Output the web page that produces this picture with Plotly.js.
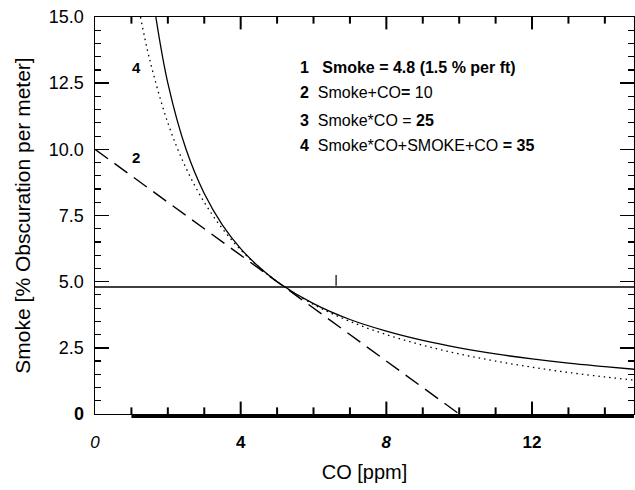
<!DOCTYPE html>
<html>
<head>
<meta charset="utf-8">
<script src="https://cdn.plot.ly/plotly-3.0.1.min.js"></script>
<style>html,body{margin:0;padding:0;background:#fff;}</style>
</head>
<body>
<div id="chart" style="width:635px;height:490px;"></div>
<script>
// Curve 1: Smoke = 4.8
const line1X = [0, 14.8];
const line1Y = [4.8, 4.8];
// Curve 2: Smoke + CO = 10
const line2X = [0, 10];
const line2Y = [10, 0];
// Curve 3: Smoke * CO = 25
const line3X = [1.67, 2, 2.5, 3, 3.5, 4, 4.5, 5, 6, 7, 8, 9, 10, 11, 12, 13, 14, 14.8];
const line3Y = [15, 12.5, 10, 8.33, 7.14, 6.25, 5.56, 5, 4.17, 3.57, 3.13, 2.78, 2.5, 2.27, 2.08, 1.92, 1.79, 1.69];
// Curve 4: Smoke*CO + Smoke + CO = 35
const line4X = [1.25, 1.5, 2, 2.5, 3, 3.5, 4, 4.5, 5, 6, 7, 8, 9, 10, 11, 12, 13, 14, 14.8];
const line4Y = [15, 13.4, 11, 9.29, 8, 7, 6.2, 5.55, 5, 4.14, 3.5, 3, 2.6, 2.27, 2, 1.77, 1.57, 1.4, 1.28];

const xTickVals = [0, 4, 8, 12];
const xTickText = ['<i>0</i>', '<b>4</b>', '<b><i>8</i></b>', '<b>12</b>'];
const xMinorTicks = [1, 2, 3, 4, 5, 6, 7, 8, 9, 10, 11, 12, 13, 14];
const yTickVals = [0, 2.5, 5, 7.5, 10, 12.5, 15];
const yTickText = ['<b>0</b>', '2.5', '5.0', '7.5', '10.0', '12.5', '15.0'];

const F = 'Arial, "Liberation Sans", sans-serif';
const SERIF = '"Times New Roman", "Liberation Serif", serif';

// x-axis tick marks as a line trace (bottom pointing up, top pointing down)
const tickX = [], tickY = [];
for (let i = 0; i < xMinorTicks.length; i++) {
  const v = xMinorTicks[i];
  const len = (v % 4 === 0) ? 0.47 : 0.25;
  tickX.push(v, v, null, v, v, null);
  tickY.push(0, len, null, 15, 15 - len, null);
}

const traces = [
  {x: line1X, y: line1Y, mode: 'lines', line: {color: '#000', width: 1.6}, hoverinfo: 'skip'},
  {x: line2X, y: line2Y, mode: 'lines', line: {color: '#000', width: 1.4, dash: '16px,8px'}, hoverinfo: 'skip'},
  {x: line3X, y: line3Y, mode: 'lines', line: {color: '#000', width: 1.3, shape: 'spline'}, hoverinfo: 'skip'},
  {x: line4X, y: line4Y, mode: 'lines', line: {color: '#000', width: 1.3, dash: '1.5px,4px', shape: 'spline'}, hoverinfo: 'skip'},
  {x: tickX, y: tickY, mode: 'lines', connectgaps: false, cliponaxis: false, line: {color: '#000', width: 2}, hoverinfo: 'skip'}
];

const layout = {
  width: 635, height: 490,
  margin: {l: 95, r: 1, t: 17, b: 76},
  paper_bgcolor: '#fff', plot_bgcolor: '#fff',
  showlegend: false,
  font: {family: F, color: '#000'},
  xaxis: {
    range: [0, 14.8], showgrid: false, zeroline: false,
    showline: true, linecolor: '#000', linewidth: 1.3, mirror: true,
    tickmode: 'array', tickvals: xTickVals, ticktext: xTickText,
    ticks: '', ticklabelstandoff: 12,
    tickfont: {size: 17, family: F},
    title: {text: 'CO [ppm]', font: {size: 20, family: F}, standoff: 14}
  },
  yaxis: {
    range: [0, 15], showgrid: false, zeroline: false,
    showline: true, linecolor: '#000', linewidth: 1.5, mirror: 'ticks',
    tickvals: yTickVals, ticktext: yTickText,
    ticks: 'inside', ticklen: 14, tickwidth: 1.5, tickcolor: '#000',
    minor: {dtick: 0.5, tick0: 0, ticks: 'inside', ticklen: 6, tickwidth: 1.2, tickcolor: '#000', showgrid: false},
    tickfont: {size: 18, family: F}, ticklabelstandoff: 6,
    title: {text: 'Smoke [% Obscuration per meter]', font: {size: 21, family: F}, standoff: 12}
  },
  shapes: [
    // thick lower segment of the bottom axis
    {type: 'line', xref: 'x', yref: 'paper', x0: 1, x1: 14.8, y0: -0.006, y1: -0.006, line: {color: '#000', width: 3}},
    // small stray mark
    {type: 'line', xref: 'x', yref: 'y', x0: 6.62, x1: 6.62, y0: 4.85, y1: 5.25, line: {color: '#000', width: 1.2}}
  ],
  annotations: [
    {x: 1.15, y: 13.1, xref: 'x', yref: 'y', text: '<b>4</b>', showarrow: false, font: {size: 15, family: F}},
    {x: 1.12, y: 9.7, xref: 'x', yref: 'y', text: '<b>2</b>', showarrow: false, font: {size: 15, family: F}},
    {x: 5.58, y: 13.1, xref: 'x', yref: 'y', xanchor: 'left', showarrow: false, font: {size: 16, family: F},
     text: '<b>1</b>   <b>Smoke = 4.8 <span style="font-family:' + SERIF + ';font-size:17px">(1.5 % per ft)</span></b>'},
    {x: 5.58, y: 12.15, xref: 'x', yref: 'y', xanchor: 'left', showarrow: false, font: {size: 16, family: F},
     text: '<b>2</b>  Smoke+CO<b>=</b> 10'},
    {x: 5.58, y: 11.1, xref: 'x', yref: 'y', xanchor: 'left', showarrow: false, font: {size: 16, family: F},
     text: '<b>3</b>  Smoke*CO = <b>25</b>'},
    {x: 5.58, y: 10.15, xref: 'x', yref: 'y', xanchor: 'left', showarrow: false, font: {size: 16, family: F},
     text: '<b>4</b>  Smoke*CO+SMOKE+CO <b>= 35</b>'}
  ]
};

Plotly.newPlot('chart', traces, layout, {staticPlot: true, displayModeBar: false});
</script>
</body>
</html>
